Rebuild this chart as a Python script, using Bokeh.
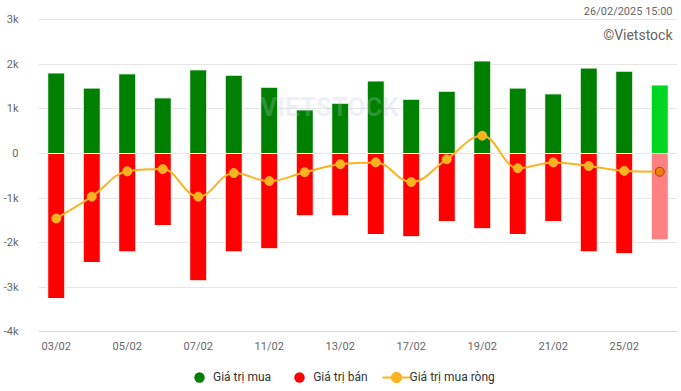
from bokeh.plotting import figure
from bokeh.models import (ColumnDataSource, FixedTicker, Range1d, Legend, LegendItem, Label, Span)
from bokeh.core.properties import value
from bokeh.embed import file_html
from bokeh.resources import INLINE

dates = ["03/02", "04/02", "05/02", "06/02", "07/02", "10/02", "11/02", "12/02", "13/02",
         "14/02", "17/02", "18/02", "19/02", "20/02", "21/02", "24/02", "25/02", "26/02"]
buy = [1810, 1470, 1790, 1250, 1880, 1760, 1490, 980, 1130, 1630, 1220, 1400, 2080, 1470, 1340, 1920, 1850, 1540]
sell = [-3260, -2450, -2210, -1620, -2860, -2210, -2140, -1400, -1400, -1820, -1870, -1530, -1690, -1820, -1530, -2210, -2250, -1940]
net = [-1460, -970, -400, -350, -970, -440, -620, -420, -240, -200, -640, -130, 400, -330, -200, -280, -390, -410]
y_ticks = [-4000, -3000, -2000, -1000, 0, 1000, 2000, 3000]
y_tick_labels = ["-4k", "-3k", "-2k", "-1k", "0", "1k", "2k", "3k"]
stamp = "26/02/2025 15:00"
credit = "©Vietstock"

FONT = "Roboto"
GREEN, RED, ORANGE = "#008000", "#ff0000", "#fbb321"
n = len(dates)
xs = list(range(n))
Y_MIN_AXIS = y_ticks[0]

buy_colors = [GREEN] * (n - 1) + ["#00d622"]
sell_colors = [RED] * (n - 1) + ["#ff8080"]
net_fill = [ORANGE] * (n - 1) + ["#f77b0c"]
net_line = [ORANGE] * (n - 1) + ["#8a4a10"]

src = ColumnDataSource(dict(x=xs, buy=buy, sell=sell, net=net, bc=buy_colors, sc=sell_colors,
                            nf=net_fill, nl=net_line))

# frame covers the full height; the y range leaves room for the date labels and the legend
p = figure(width=681, height=391, output_backend="svg", toolbar_location=None,
           x_range=Range1d(-0.5, n - 0.5), y_range=Range1d(-5348, 3438),
           x_axis_location=None,
           min_border_left=36, min_border_right=4, min_border_top=0, min_border_bottom=0)
p.outline_line_color = None
p.background_fill_color = "white"

# grid
p.xgrid.visible = False
p.ygrid.grid_line_color = "#e6e6e6"
p.ygrid.ticker = FixedTicker(ticks=y_ticks)

# watermark
p.add_layout(Label(x=7.7, y=1050, text="VIETSTOCK", text_font=FONT, text_font_size="26px",
                   text_font_style="bold", text_color="#b9c8de", text_alpha=0.25,
                   text_align="center", text_baseline="middle"))

# bars
p.vbar(x="x", top="buy", bottom=0, width=0.48, fill_color="bc", line_color="white", line_width=1, source=src)
p.vbar(x="x", top=0, bottom="sell", width=0.48, fill_color="sc", line_color="white", line_width=1, source=src)

# spline (Highcharts-style smoothing) computed from the net points
sm = 1.5
den = sm + 1
lcx = [None] * n; lcy = [None] * n; rcx = [None] * n; rcy = [None] * n
for i in range(1, n - 1):
    px, py = xs[i], net[i]
    lx, ly = xs[i - 1], net[i - 1]
    nx, ny = xs[i + 1], net[i + 1]
    a_x = (sm * px + lx) / den; a_y = (sm * py + ly) / den
    b_x = (sm * px + nx) / den; b_y = (sm * py + ny) / den
    corr = ((b_y - a_y) * (b_x - px)) / (b_x - a_x) + py - b_y
    a_y += corr; b_y += corr
    if a_y > ly and a_y > py:
        a_y = max(ly, py); b_y = 2 * py - a_y
    elif a_y < ly and a_y < py:
        a_y = min(ly, py); b_y = 2 * py - a_y
    if b_y > ny and b_y > py:
        b_y = max(ny, py); a_y = 2 * py - b_y
    elif b_y < ny and b_y < py:
        b_y = min(ny, py); a_y = 2 * py - b_y
    lcx[i], lcy[i], rcx[i], rcy[i] = a_x, a_y, b_x, b_y

bz = dict(x0=[], y0=[], x1=[], y1=[], cx0=[], cy0=[], cx1=[], cy1=[])
for i in range(1, n):
    bz["x0"].append(xs[i - 1]); bz["y0"].append(net[i - 1])
    bz["x1"].append(xs[i]); bz["y1"].append(net[i])
    bz["cx0"].append(rcx[i - 1] if rcx[i - 1] is not None else xs[i - 1])
    bz["cy0"].append(rcy[i - 1] if rcy[i - 1] is not None else net[i - 1])
    bz["cx1"].append(lcx[i] if lcx[i] is not None else xs[i])
    bz["cy1"].append(lcy[i] if lcy[i] is not None else net[i])
bez = p.bezier(x0="x0", y0="y0", x1="x1", y1="y1", cx0="cx0", cy0="cy0", cx1="cx1", cy1="cy1",
               line_color=ORANGE, line_width=2, source=ColumnDataSource(bz))
pts = p.scatter(x="x", y="net", marker="circle", size=9, fill_color="nf", line_color="nl",
                line_width=1, source=src)

# legend-only markers (zero size on the plot)
lg_buy = p.scatter(x="x", y="buy", marker="circle", size=0, fill_color=GREEN, line_color=None, source=src)
lg_sell = p.scatter(x="x", y="sell", marker="circle", size=0, fill_color=RED, line_color=None, source=src)

# y axis
p.yaxis.ticker = FixedTicker(ticks=y_ticks)
p.yaxis.major_label_overrides = {t: l for t, l in zip(y_ticks, y_tick_labels)}
p.yaxis.major_tick_line_color = None
p.yaxis.minor_tick_line_color = None
p.yaxis.axis_line_color = None
p.yaxis.major_label_text_font = FONT
p.yaxis.major_label_text_font_size = "11px"
p.yaxis.major_label_text_color = "#666666"
p.yaxis.major_label_standoff = 14

# x axis line and category labels (every second date)
p.add_layout(Span(location=Y_MIN_AXIS, dimension="width", line_color="#ccd6eb", line_width=1))
xlab = ColumnDataSource(dict(x=xs[::2], t=dates[::2], y=[Y_MIN_AXIS - 337] * len(xs[::2])))
p.text(x="x", y="y", text="t", source=xlab, text_font=value(FONT), text_font_size="11px",
       text_color="#666666", text_align="center", text_baseline="middle")

# texts
p.add_layout(Label(x=17.36, y=3191, text=stamp, text_font=FONT, text_font_size="11px",
                   text_color="#666666", text_align="right", text_baseline="middle"))
p.add_layout(Label(x=17.36, y=2652, text=credit, text_font=FONT, text_font_size="14px",
                   text_color="#666666", text_align="right", text_baseline="middle"))

# legend
legend = Legend(items=[LegendItem(label="Giá trị mua", renderers=[lg_buy], index=0),
                       LegendItem(label="Giá trị bán", renderers=[lg_sell], index=0),
                       LegendItem(label="Giá trị mua ròng", renderers=[bez, pts], index=0)],
                orientation="horizontal", location=(147, 1), glyph_width=28, glyph_height=26,
                label_standoff=0, spacing=14, padding=0, margin=0, border_line_color=None,
                background_fill_alpha=0, label_text_font=FONT, label_text_font_size="12px",
                label_text_color="#333333")
p.add_layout(legend)

open("out.html", "w").write(file_html(p, INLINE))
